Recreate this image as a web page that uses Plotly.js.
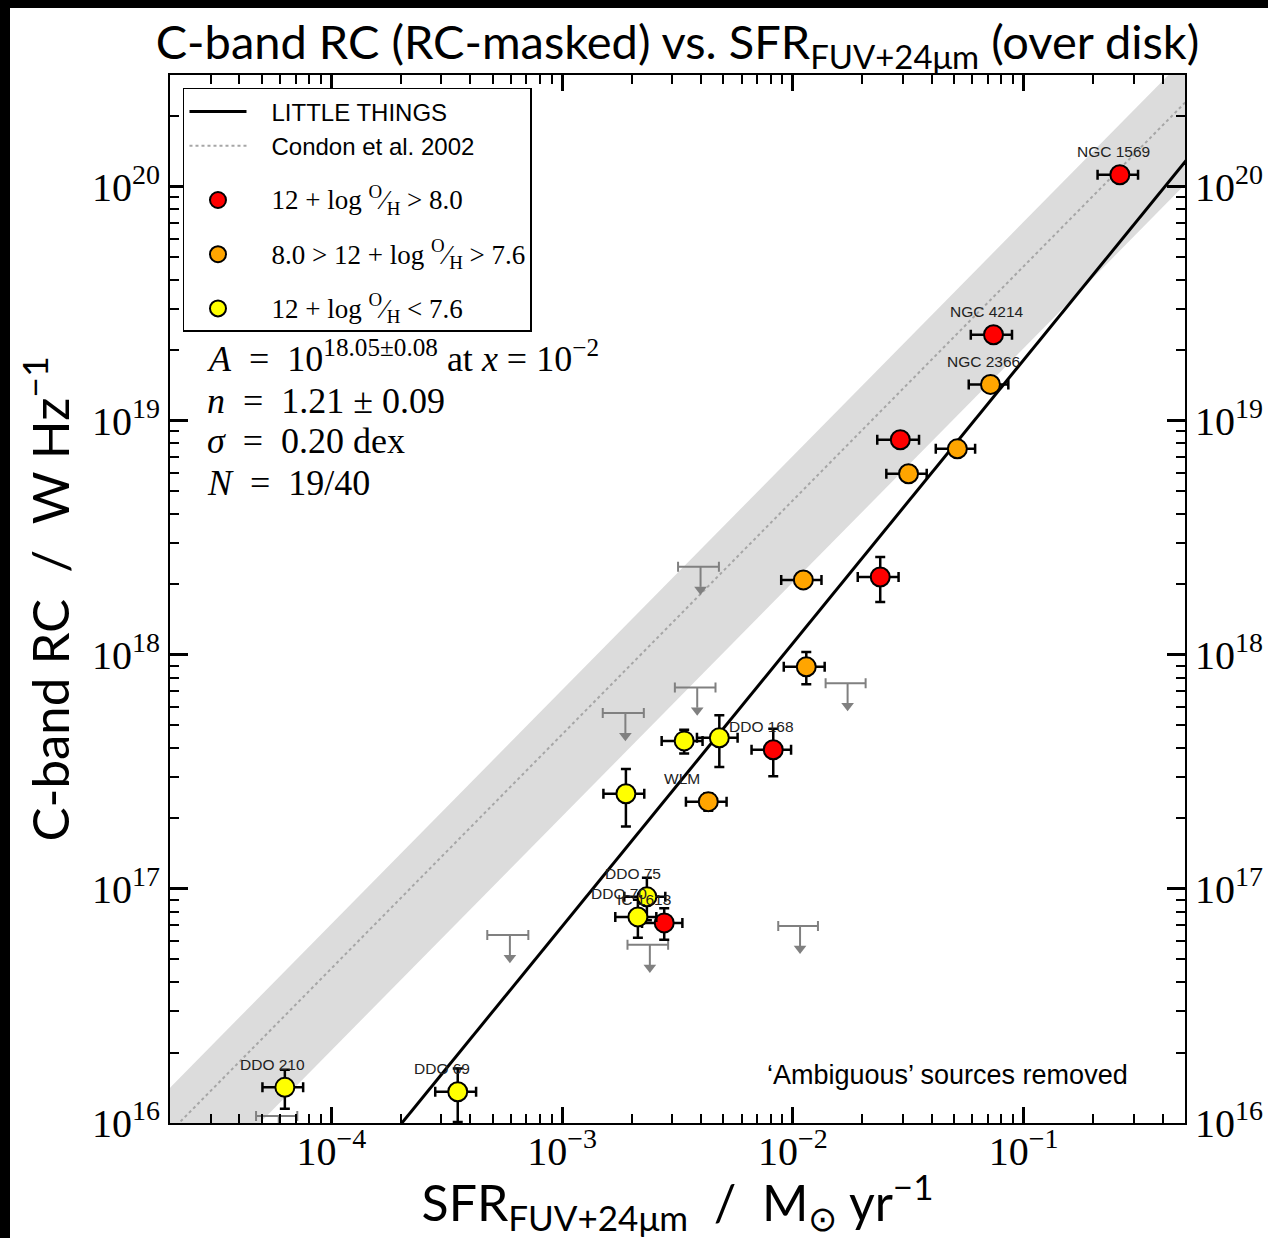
<!DOCTYPE html>
<html>
<head>
<meta charset="utf-8">
<script src="https://cdn.plot.ly/plotly-3.0.1.min.js"></script>
<style>
  html, body { margin:0; padding:0; background:#000; width:1268px; height:1238px; overflow:hidden; }
  #chart { position:absolute; left:10px; top:8px; width:1258px; height:1230px; background:#fff; }
</style>
</head>
<body>
<div id="chart"></div>
<script>
// ---------------- data ----------------
// 12 + log(O/H) > 8.0 (red)
const redNames = ['NGC 1569', 'NGC 4214', '', '', 'DDO 168', 'IC 1613'];
const redX     = [0.261, 0.074, 0.0292, 0.0239, 0.00822, 0.00277];
const redY     = [1.125e20, 2.33e19, 8.3e18, 2.15e18, 3.93e17, 7.16e16];
const redXerr  = [0.052, 0.015, 0.006, 0.0048, 0.0016, 0.00055];
const redYerr  = [0.8e19, 1.5e18, 5e17, 4.7e17, 0.9e17, 1.1e16];

// 8.0 > 12 + log(O/H) > 7.6 (orange)
const orangeNames = ['NGC 2366', '', '', '', '', 'WLM'];
const orangeX     = [0.0718, 0.0516, 0.0317, 0.0111, 0.01143, 0.0043];
const orangeY     = [1.43e19, 7.59e18, 5.94e18, 2.09e18, 8.89e17, 2.36e17];
const orangeXerr  = [0.014, 0.010, 0.0063, 0.0022, 0.0023, 0.00086];
const orangeYerr  = [1.0e18, 5e17, 4e17, 1.5e17, 1.4e17, 0.2e17];

// 12 + log(O/H) < 7.6 (yellow)
const yellowNames = ['', '', '', 'DDO 75', 'DDO 70', 'DDO 210', 'DDO 69'];
const yellowX     = [0.0048, 0.00338, 0.00189, 0.00233, 0.00213, 6.29e-5, 3.53e-4];
const yellowY     = [4.42e17, 4.29e17, 2.55e17, 9.25e16, 7.59e16, 1.42e16, 1.36e16];
const yellowXerr  = [0.00096, 0.00068, 0.00038, 0.00047, 0.00043, 1.26e-5, 7.1e-5];
const yellowYerr  = [1.1e17, 0.5e17, 0.7e17, 1.9e16, 1.4e16, 0.27e16, 0.35e16];

// upper limits (grey)
const ulX    = [0.00398, 0.00385, 0.00188, 0.01726, 5.94e-4, 0.00240, 0.01074, 5.92e-5];
const ulY    = [2.38e18, 7.25e17, 5.64e17, 7.57e17, 6.35e16, 5.77e16, 6.95e16, 1.07e16];
const ulXerr = [0.0008, 0.00077, 0.00038, 0.0034, 1.2e-4, 0.00048, 0.0021, 1.2e-5];

// fit (LITTLE THINGS) and Condon et al. 2002 relation
const fitLogA = 18.05, fitPivot = 1e-2, fitN = 1.21;
const condonLogC = 20.66, bandLogUp = 20.85, bandLogLo = 20.31;
const lineX = [1e-5, 1];

// axes
const xRange = [2e-5, 0.5];
const yRange = [1e16, 3e20];
const xMajor = [1e-4, 1e-3, 1e-2, 1e-1];
const xMajorText = ['10<sup>−4</sup>', '10<sup>−3</sup>', '10<sup>−2</sup>', '10<sup>−1</sup>'];
const yMajor = [1e16, 1e17, 1e18, 1e19, 1e20];
const yMajorText = ['10<sup>16</sup>', '10<sup>17</sup>', '10<sup>18</sup>', '10<sup>19</sup>', '10<sup>20</sup>'];

// ---------------- styles ----------------
const labelShift = { 'NGC 1569': -6, 'NGC 4214': -7, 'NGC 2366': -7, 'DDO 168': -12, 'WLM': -26,
                     'DDO 75': -14, 'DDO 70': -19, 'IC 1613': -20, 'DDO 210': -12, 'DDO 69': -16 };
const SERIF = 'Liberation Serif';
const SANS = 'Lato';
const HELV = 'Liberation Sans';
const NB = '\u00a0';

function minorVals(lo, hi) {
  const out = [];
  for (let k = lo; k <= hi; k++) for (let m = 2; m <= 9; m++) out.push(m * Math.pow(10, k));
  return out;
}

const fitY = lineX.map(v => Math.pow(10, fitLogA + fitN * Math.log10(v / fitPivot)));
const condonY = lineX.map(v => Math.pow(10, condonLogC + Math.log10(v)));
const bandLo = lineX.map(v => Math.pow(10, bandLogLo + Math.log10(v)));
const bandUp = lineX.map(v => Math.pow(10, bandLogUp + Math.log10(v)));

const arrowShaft = 0.82, arrowHead = 0.80;

function pointTrace(name, x, y, xe, ye, color, rank) {
  return {
    type: 'scatter', mode: 'markers', name: name, x: x, y: y,
    legendgroup: 'g' + rank, legendrank: rank,
    marker: { color: color, size: 19, line: { color: '#000', width: 2 } },
    error_x: { type: 'data', array: xe, visible: true, color: '#000', thickness: 2.5, width: 5 },
    error_y: { type: 'data', array: ye, visible: true, color: '#000', thickness: 2.5, width: 5 },
    hoverinfo: 'x+y'
  };
}

const fracOH = '<sup>O</sup>⁄<sub>H</sub>';
const serifSpan = s => NB + NB + NB + '<span style="font-family:' + SERIF + ';font-size:27px">' + s + '</span>';

const traces = [
  { type: 'scatter', mode: 'lines', x: [lineX[0], lineX[1], lineX[1], lineX[0]],
    y: [bandLo[0], bandLo[1], bandUp[1], bandUp[0]], fill: 'toself',
    fillcolor: '#dcdcdc', line: { width: 0 }, showlegend: false, hoverinfo: 'skip' },
  { type: 'scatter', mode: 'lines', name: NB + NB + NB + 'Condon et al. 2002', x: lineX, y: condonY,
    legendgroup: 'lines', legendrank: 2,
    line: { color: '#a6a6a6', width: 2, dash: 'dot' }, hoverinfo: 'skip' },
  { type: 'scatter', mode: 'lines', name: NB + NB + NB + 'LITTLE THINGS', x: lineX, y: fitY,
    legendgroup: 'lines', legendrank: 1,
    line: { color: '#000', width: 3 }, hoverinfo: 'skip' },
  { type: 'scatter', mode: 'markers', x: ulX, y: ulY, showlegend: false,
    marker: { size: 1, opacity: 0 },
    error_x: { type: 'data', array: ulXerr, color: '#808080', thickness: 2, width: 5 },
    error_y: { type: 'data', symmetric: false, array: ulY.map(() => 0),
               arrayminus: ulY.map(v => v * (1 - arrowShaft)), color: '#808080', thickness: 2, width: 0 },
    hoverinfo: 'x+y' },
  { type: 'scatter', mode: 'markers', x: ulX, y: ulY.map(v => v * arrowHead), showlegend: false,
    marker: { symbol: 'triangle-down', size: 11, color: '#808080' }, hoverinfo: 'skip' },
  pointTrace(serifSpan('12 + log ' + fracOH + ' > 8.0'), redX, redY, redXerr, redYerr, '#ff0000', 3),
  pointTrace(serifSpan('8.0 > 12 + log ' + fracOH + ' > 7.6'), orangeX, orangeY, orangeXerr, orangeYerr, '#ffa500', 4),
  pointTrace(serifSpan('12 + log ' + fracOH + ' < 7.6'), yellowX, yellowY, yellowXerr, yellowYerr, '#ffff00', 5),
  { type: 'scatter', mode: 'markers', x: [null], y: [null], xaxis: 'x2', yaxis: 'y2', showlegend: false, hoverinfo: 'skip' }
];

const annotations = [];
function addLabels(names, x, y) {
  names.forEach((n, i) => {
    if (!n) return;
    annotations.push({ xref: 'x', yref: 'y', x: Math.log10(x[i]), y: Math.log10(y[i]),
      text: n, showarrow: false, xshift: labelShift[n] || 0, yshift: 23,
      font: { family: HELV, size: 15.5, color: '#222' } });
  });
}
addLabels(redNames, redX, redY);
addLabels(orangeNames, orangeX, orangeY);
addLabels(yellowNames, yellowX, yellowY);

const EQ = NB + NB + '=' + NB + NB;
const statLines = [
  '<i>A</i>' + EQ + '10<sup>18.05±0.08</sup> at <i>x</i> = 10<sup>−2</sup>',
  '<i>n</i>' + EQ + '1.21 ± 0.09',
  '<i>σ</i>' + EQ + '0.20' + NB + 'dex',
  '<i>N</i>' + EQ + '19/40'
];
const statY = [0.731, 0.689, 0.651, 0.611];
statLines.forEach((t, i) => annotations.push({
  xref: 'paper', yref: 'paper', x: 0.0345, y: statY[i], xanchor: 'left', yanchor: 'middle',
  text: t, showarrow: false, font: { family: SERIF, size: 36, color: '#000' }
}));
annotations.push({ xref: 'paper', yref: 'paper', x: 0.7665, y: 0.0458, xanchor: 'center', yanchor: 'middle',
  text: '‘Ambiguous’ sources removed', showarrow: false, font: { family: HELV, size: 27, color: '#000' } });

const tickFont = { family: SERIF, size: 40, color: '#000' };
const commonX = {
  type: 'log', range: xRange.map(Math.log10), showgrid: false, zeroline: false,
  showline: true, linecolor: '#000', linewidth: 2,
  ticks: 'inside', ticklen: 16, tickwidth: 3, tickcolor: '#000',
  tickmode: 'array', tickvals: xMajor, ticktext: xMajorText, tickfont: tickFont,
  minor: { ticks: 'inside', ticklen: 9, tickwidth: 2, tickcolor: '#000', tickmode: 'array', tickvals: minorVals(-5, -1), showgrid: false }
};
const commonY = {
  type: 'log', range: yRange.map(Math.log10), showgrid: false, zeroline: false,
  showline: true, linecolor: '#000', linewidth: 2,
  ticks: 'inside', ticklen: 18, tickwidth: 3, tickcolor: '#000',
  tickmode: 'array', tickvals: yMajor, ticktext: yMajorText, tickfont: tickFont,
  minor: { ticks: 'inside', ticklen: 9, tickwidth: 2, tickcolor: '#000', tickmode: 'array', tickvals: minorVals(16, 20), showgrid: false }
};

const layout = {
  width: 1258, height: 1230,
  margin: { l: 160, r: 83, t: 67, b: 115 },
  paper_bgcolor: '#fff', plot_bgcolor: '#fff',
  showlegend: true,
  title: { text: 'C-band RC (RC-masked) vs. SFR<sub>FUV+24μm</sub> (over disk)',
           xref: 'paper', x: 0.5, xanchor: 'center', yref: 'container', y: 0.972, yanchor: 'middle',
           font: { family: SANS, size: 47, color: '#000' } },
  xaxis: Object.assign({}, commonX, {
    ticklabelstandoff: -8,
    title: { text: 'SFR<sub>FUV+24μm</sub>' + NB + NB + '/' + NB + NB + 'M<sub>⊙</sub> yr<sup>−1</sup>',
             font: { family: SANS, size: 50, color: '#000' }, standoff: 8 } }),
  yaxis: Object.assign({}, commonY, {
    title: { text: 'C-band RC' + NB + NB + '/' + NB + NB + 'W Hz<sup>−1</sup>',
             font: { family: SANS, size: 51, color: '#000' }, standoff: 6 } }),
  xaxis2: Object.assign({}, commonX, { overlaying: 'x', side: 'top', anchor: 'y', showticklabels: false }),
  yaxis2: Object.assign({}, commonY, { overlaying: 'y', side: 'right', anchor: 'x', showticklabels: true }),
  legend: { x: 0.0128, y: 0.9876, xanchor: 'left', yanchor: 'top', bgcolor: '#fff',
            bordercolor: '#000', borderwidth: 1.5, itemwidth: 57, tracegroupgap: 20,
            traceorder: 'grouped',
            font: { family: HELV, size: 24, color: '#000' } },
  annotations: annotations
};

Plotly.newPlot('chart', traces, layout, { displayModeBar: false, staticPlot: true });
</script>
</body>
</html>
